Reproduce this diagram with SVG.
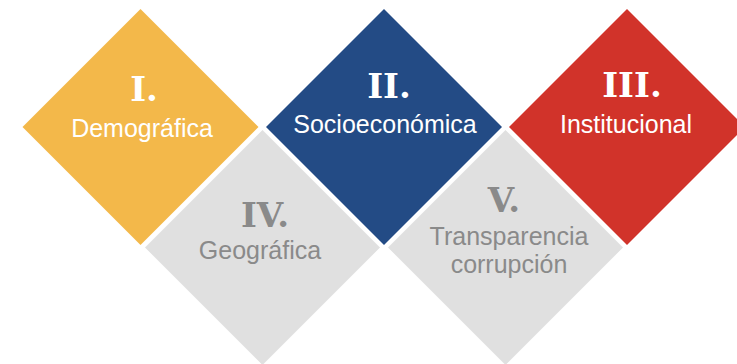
<svg xmlns="http://www.w3.org/2000/svg" width="737" height="364" viewBox="0 0 737 364">
<style>
.num{font-family:"DejaVu Serif",serif;font-weight:bold;font-size:34px;text-anchor:middle}
.lbl{font-family:"Liberation Sans",Arial,sans-serif;font-size:25px;text-anchor:middle}
.w{fill:#ffffff}
.g{fill:#8a8a8a}
</style>
<rect width="737" height="364" fill="#ffffff"/>
<g id="node-iv">
<polygon points="262.5,130 380,247.5 262.5,365 145,247.5" fill="#e0e0e0"/>
<text class="num g" x="265" y="227">IV.</text>
<text class="lbl g" x="260" y="259">Geográfica</text>
</g>
<g id="node-v">
<polygon points="505.5,130 623,247.5 505.5,365 388,247.5" fill="#e0e0e0"/>
<text class="num g" x="504" y="212">V.</text>
<text class="lbl g" x="509" y="245">Transparencia</text>
<text class="lbl g" x="509" y="273">corrupción</text>
</g>
<g id="node-i">
<polygon points="140.5,9 258.5,127 140.5,245 22.5,127" fill="#f3b84a"/>
<text class="num w" x="144" y="101">I.</text>
<text class="lbl w" x="142" y="137">Demográfica</text>
</g>
<g id="node-ii">
<polygon points="384,9 502,127 384,245 266,127" fill="#234b85"/>
<text class="num w" x="389" y="98">II.</text>
<text class="lbl w" x="385" y="133">Socioeconómica</text>
</g>
<g id="node-iii">
<polygon points="627,9 745,127 627,245 509,127" fill="#d1332a"/>
<text class="num w" x="632" y="97">III.</text>
<text class="lbl w" x="626" y="133">Institucional</text>
</g>
<g id="connectors"></g>
</svg>
